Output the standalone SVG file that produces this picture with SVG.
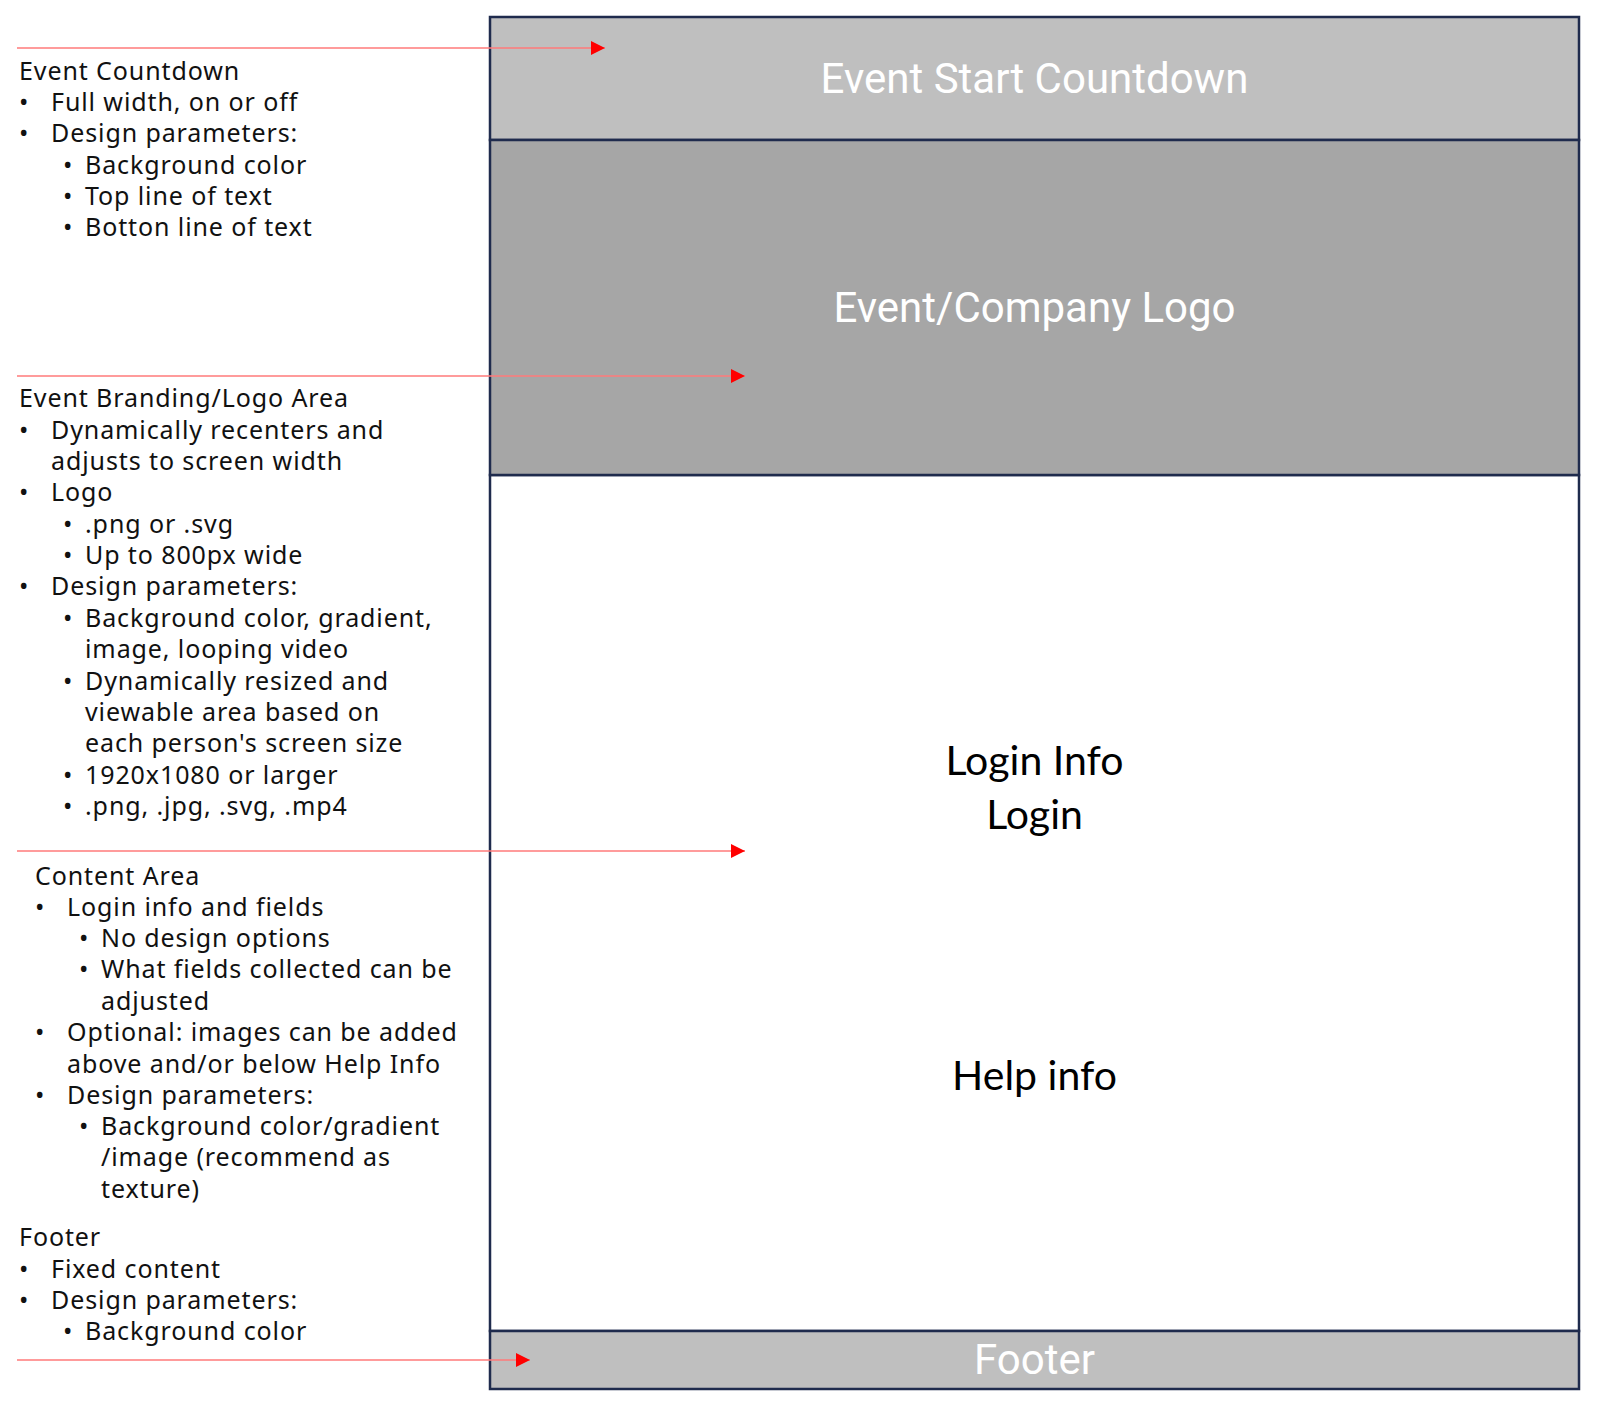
<svg xmlns="http://www.w3.org/2000/svg" width="1606" height="1414" viewBox="0 0 1606 1414">
<style>
.note{font-family:"Noto Sans","Open Sans",sans-serif;font-size:25px;letter-spacing:0.9px;fill:#111}
.band{stroke:#1f2b4d;stroke-width:2.5}
.wt{font-family:Roboto,"Liberation Sans",sans-serif;font-size:42px;fill:#ffffff;text-anchor:middle}
.bt{font-family:Lato,"Liberation Sans",sans-serif;font-size:41px;fill:#000;text-anchor:middle}
.conn{stroke:#ff7a7a;stroke-width:1.6;fill:none}
</style>
<defs>
<marker id="ah" markerUnits="userSpaceOnUse" markerWidth="14" markerHeight="14" refX="14" refY="7" orient="auto">
<path d="M0,0 L14,7 L0,14 Z" fill="#ff0000"/>
</marker>
</defs>
<rect width="1606" height="1414" fill="#ffffff"/>
<g id="content">
<rect class="band" x="490" y="475" width="1089" height="856" fill="#ffffff"/>
<text class="bt" x="1034.5" y="775">Login Info</text>
<text class="bt" x="1034.5" y="829">Login</text>
<text class="bt" x="1034.5" y="1090">Help info</text>
</g>
<g id="countdown">
<rect class="band" x="490" y="17" width="1089" height="123" fill="#bfbfbf"/>
<text class="wt" x="1034.5" y="93">Event Start Countdown</text>
</g>
<g id="logo">
<rect class="band" x="490" y="140" width="1089" height="335" fill="#a6a6a6"/>
<text class="wt" x="1034.5" y="322">Event/Company Logo</text>
</g>
<g id="footer">
<rect class="band" x="490" y="1331" width="1089" height="58" fill="#bfbfbf"/>
<text class="wt" x="1034.5" y="1374">Footer</text>
</g>
<g id="note-countdown" class="note">
<text x="19" y="80">Event Countdown</text>
<text x="19" y="111">•</text><text x="51" y="111">Full width, on or off</text>
<text x="19" y="142">•</text><text x="51" y="142">Design parameters:</text>
<text x="63" y="174">•</text><text x="85" y="174">Background color</text>
<text x="63" y="205">•</text><text x="85" y="205">Top line of text</text>
<text x="63" y="236">•</text><text x="85" y="236">Botton line of text</text>
</g>
<g id="note-branding" class="note">
<text x="19" y="407">Event Branding/Logo Area</text>
<text x="19" y="439">•</text><text x="51" y="439">Dynamically recenters and</text>
<text x="51" y="470">adjusts to screen width</text>
<text x="19" y="501">•</text><text x="51" y="501">Logo</text>
<text x="63" y="533">•</text><text x="85" y="533">.png or .svg</text>
<text x="63" y="564">•</text><text x="85" y="564">Up to 800px wide</text>
<text x="19" y="595">•</text><text x="51" y="595">Design parameters:</text>
<text x="63" y="627">•</text><text x="85" y="627">Background color, gradient,</text>
<text x="85" y="658">image, looping video</text>
<text x="63" y="690">•</text><text x="85" y="690">Dynamically resized and</text>
<text x="85" y="721">viewable area based on</text>
<text x="85" y="752">each person's screen size</text>
<text x="63" y="784">•</text><text x="85" y="784">1920x1080 or larger</text>
<text x="63" y="815">•</text><text x="85" y="815">.png, .jpg, .svg, .mp4</text>
</g>
<g id="note-content" class="note">
<text x="35" y="885">Content Area</text>
<text x="35" y="916">•</text><text x="67" y="916">Login info and fields</text>
<text x="79" y="947">•</text><text x="101" y="947">No design options</text>
<text x="79" y="978">•</text><text x="101" y="978">What fields collected can be</text>
<text x="101" y="1010">adjusted</text>
<text x="35" y="1041">•</text><text x="67" y="1041">Optional: images can be added</text>
<text x="67" y="1073">above and/or below Help Info</text>
<text x="35" y="1104">•</text><text x="67" y="1104">Design parameters:</text>
<text x="79" y="1135">•</text><text x="101" y="1135">Background color/gradient</text>
<text x="101" y="1166">/image (recommend as</text>
<text x="101" y="1198">texture)</text>
</g>
<g id="note-footer" class="note">
<text x="19" y="1246">Footer</text>
<text x="19" y="1278">•</text><text x="51" y="1278">Fixed content</text>
<text x="19" y="1309">•</text><text x="51" y="1309">Design parameters:</text>
<text x="63" y="1340">•</text><text x="85" y="1340">Background color</text>
</g>
<g id="connectors">
<line class="conn" x1="17" y1="48" x2="605" y2="48" marker-end="url(#ah)"/>
<line class="conn" x1="17" y1="376" x2="745" y2="376" marker-end="url(#ah)"/>
<line class="conn" x1="17" y1="851" x2="745" y2="851" marker-end="url(#ah)"/>
<line class="conn" x1="17" y1="1360" x2="530" y2="1360" marker-end="url(#ah)"/>
</g>
</svg>
